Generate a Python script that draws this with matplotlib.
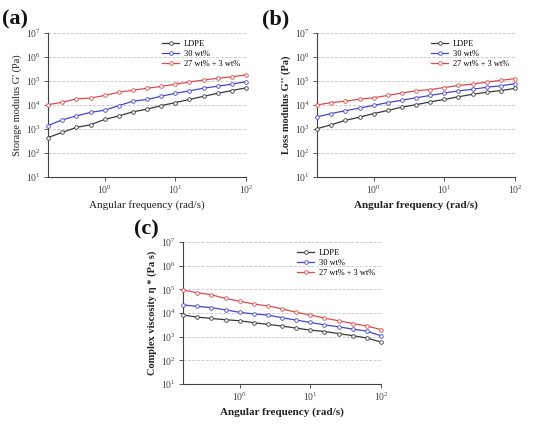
import numpy as np
import matplotlib
matplotlib.use("Agg")
import matplotlib.pyplot as plt
from matplotlib.ticker import LogLocator, LogFormatterMathtext, NullLocator

plt.rcParams['font.family'] = ['Liberation Serif', 'DejaVu Serif']
plt.rcParams['mathtext.fontset'] = 'custom'
plt.rcParams['mathtext.rm'] = 'Liberation Serif'
plt.rcParams['mathtext.it'] = 'Liberation Serif:italic'
plt.rcParams['mathtext.bf'] = 'Liberation Serif:bold'

freq = [0.158, 0.251, 0.398, 0.631, 1.0, 1.585, 2.512, 3.981, 6.31, 10.0,
        15.85, 25.12, 39.81, 63.1, 100.0]

series_names = ["LDPE", "30 wt%", "27 wt% + 3 wt%"]

g1_ldpe = [440, 720, 1170, 1500, 2500, 3500, 5200, 6700, 9400, 12600,
           17000, 23000, 30700, 40000, 52000]
g1_30 = [1390, 2400, 3500, 4900, 6100, 9400, 14400, 17000, 23000, 30700,
         39000, 50000, 61000, 74000, 94000]
g1_27 = [10300, 13000, 18000, 19400, 25000, 34000, 41000, 50000, 59000, 74000,
         91000, 110000, 130000, 150000, 180000]

g2_ldpe = [1030, 1500, 2300, 3100, 4400, 5900, 8200, 10300, 13500, 17000,
           22000, 28000, 34000, 40000, 49000]
g2_30 = [3200, 4400, 5800, 7400, 9700, 12600, 15800, 20000, 25000, 31600,
         39000, 45000, 55000, 63000, 77000]
g2_27 = [10000, 12600, 14400, 17500, 20000, 25000, 31600, 39000, 44000, 53500,
         65000, 74000, 90000, 107000, 125000]

eta_ldpe = [8200, 6700, 5900, 5200, 4700, 3900, 3300, 2800, 2300, 1900,
            1650, 1350, 1100, 880, 590]
eta_30 = [22000, 19000, 17000, 13500, 10700, 9100, 8200, 6300, 5000, 4000,
          3160, 2600, 2100, 1700, 1100]
eta_27 = [94000, 72000, 59000, 41000, 31600, 24000, 20000, 15000, 10700, 8200,
          6100, 4700, 3600, 2800, 2000]

colors = ["#3a3a3a", "#4646c8", "#dc4b4b"]

W, H = 533, 426
fig = plt.figure(figsize=(W / 100, H / 100), dpi=100)

panels = [
    dict(rect=(48, 33, 246, 177), data=[g1_ldpe, g1_30, g1_27],
         ylabel="Storage modulus G' (Pa)", bold=False, tag="(a)", tagpos=(2, 24)),
    dict(rect=(317, 33, 515, 177), data=[g2_ldpe, g2_30, g2_27],
         ylabel="Loss modulus G'' (Pa)", bold=True, tag="(b)", tagpos=(262, 24)),
    dict(rect=(183, 242, 381, 384), data=[eta_ldpe, eta_30, eta_27],
         ylabel="Complex viscosity η * (Pa s)", bold=True, tag="(c)", tagpos=(134, 234)),
]

for p in panels:
    l, t, r, b = p["rect"]
    ax = fig.add_axes([l / W, 1 - b / H, (r - l) / W, (b - t) / H])
    for vals, name, c in zip(p["data"], series_names, colors):
        ax.plot(freq, vals, color=c, lw=0.9, marker='o', ms=2.6,
                mfc='white', mec=c, mew=0.6, label=name, clip_on=False, zorder=3)
    ax.set_xscale('log')
    ax.set_yscale('log')
    ax.set_xlim(0.158, 100)
    ax.set_ylim(10, 1e7)
    ax.yaxis.set_major_locator(LogLocator(base=10, numticks=10))
    ax.xaxis.set_major_locator(LogLocator(base=10, numticks=10))
    ax.xaxis.set_minor_locator(NullLocator())
    ax.yaxis.set_minor_locator(NullLocator())
    ax.yaxis.set_major_formatter(LogFormatterMathtext())
    ax.xaxis.set_major_formatter(LogFormatterMathtext())
    ax.grid(axis='y', which='major', color='#c8c8c8', ls='--', lw=0.6, zorder=0)
    for s in ['top', 'right']:
        ax.spines[s].set_visible(False)
    for s in ['left', 'bottom']:
        ax.spines[s].set_color('#404040')
        ax.spines[s].set_linewidth(0.8)
    ax.tick_params(axis='both', labelsize=7, length=3, width=0.6,
                   colors='#404040', labelcolor='#444444', pad=2)
    w = 'bold' if p["bold"] else 'normal'
    ax.set_xlabel("Angular frequency (rad/s)", fontsize=8, fontweight=w,
                  labelpad=3, color='#222222')
    ax.set_ylabel(p["ylabel"], fontsize=7.5, fontweight=w, labelpad=3,
                  color='#222222')
    leg = ax.legend(loc='upper right', bbox_to_anchor=(1.0, 0.99), frameon=False,
                    fontsize=6, handlelength=2.0, handletextpad=0.6,
                    labelspacing=0.2, borderaxespad=0.3)
    tx, ty = p["tagpos"]
    fig.text(tx / W, 1 - ty / H, p["tag"], fontsize=16, fontweight='bold',
             ha='left', va='baseline', color='#111111')

fig.savefig("out.png", dpi=100)
